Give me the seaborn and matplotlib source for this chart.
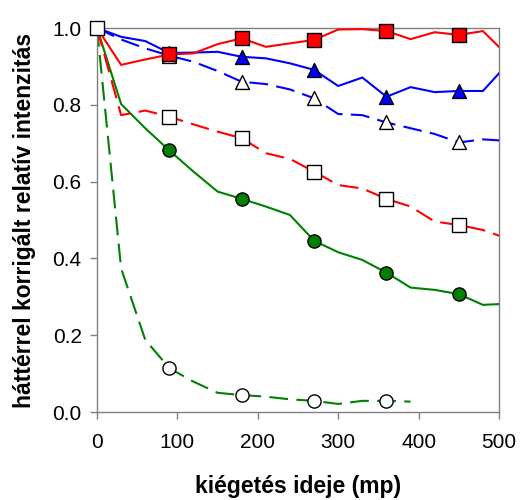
import numpy as np
import pandas as pd
import matplotlib
matplotlib.use("Agg")
import matplotlib.pyplot as plt
import seaborn as sns

# ---- data ----
times = [0, 30, 60, 90, 120, 150, 180, 210, 240, 270, 300, 330, 360, 390, 420, 450, 480, 510]
red_solid = [1.0, 0.904, 0.918, 0.931, 0.934, 0.958, 0.973, 0.951, 0.960, 0.969,
             0.996, 0.997, 0.992, 0.971, 0.989, 0.982, 0.992, 0.930]
blue_solid = [1.0, 0.977, 0.966, 0.935, 0.936, 0.938, 0.925, 0.921, 0.908, 0.891,
              0.849, 0.871, 0.821, 0.846, 0.833, 0.836, 0.836, 0.905]
blue_dashed = [1.0, 0.970, 0.947, 0.928, 0.912, 0.888, 0.860, 0.854, 0.840, 0.817,
               0.776, 0.773, 0.754, 0.739, 0.724, 0.702, 0.710, 0.706]
red_dashed = [1.0, 0.773, 0.785, 0.769, 0.749, 0.730, 0.713, 0.674, 0.659, 0.626,
              0.591, 0.582, 0.555, 0.535, 0.496, 0.487, 0.474, 0.452]
green_solid = [1.0, 0.802, 0.739, 0.681, 0.626, 0.574, 0.555, 0.535, 0.513, 0.446,
               0.416, 0.396, 0.363, 0.324, 0.318, 0.307, 0.279, 0.282]
green_dashed = [1.0, 0.374, 0.188, 0.114, 0.079, 0.050, 0.044, 0.040, 0.033, 0.029,
                0.021, 0.029, 0.029, 0.027]

x_ticks = [0, 100, 200, 300, 400, 500]
y_ticks = [0.0, 0.2, 0.4, 0.6, 0.8, 1.0]
x_label = "kiégetés ideje (mp)"
y_label = "háttérrel korrigált relatív intenzitás"

sns.set_theme(style="white")
plt.rcParams["font.family"] = ["Liberation Sans", "DejaVu Sans"]

fig = plt.figure(figsize=(5.2, 5.0), dpi=100)
ax = fig.add_axes([97 / 520, 1 - 412 / 500, (499 - 97) / 520, (412 - 28) / 500])

dash = (0, (9, 4))
series = [
    # values, color, linestyle, marker, facecolor, marker_size, marker at t=0
    (green_dashed, "#008000", dash, "o", "white", 90, False),
    (green_solid, "#008000", "-", "o", "#008000", 90, False),
    (blue_dashed, "#0000FF", dash, "^", "white", 100, False),
    (blue_solid, "#0000FF", "-", "^", "#0000FF", 100, False),
    (red_solid, "#FF0000", "-", "s", "#FF0000", 90, False),
    (red_dashed, "#FF0000", dash, "s", "white", 90, True),
]

for i, (vals, col, ls, mk, fc, ms, first) in enumerate(series):
    t = np.array(times[:len(vals)])
    v = np.array(vals)
    df = pd.DataFrame({"t": t, "v": v})
    sns.lineplot(data=df, x="t", y="v", ax=ax, color=col, linestyle=ls,
                 linewidth=1.5, zorder=2 + i, estimator=None, sort=False)
    idx = [k for k in range(len(t)) if k % 3 == 0 and (k > 0 or first) and t[k] <= 500]
    sns.scatterplot(x=t[idx], y=v[idx], ax=ax, marker=mk, color=fc, s=ms,
                    edgecolor="black", linewidth=1.0, zorder=10 + i, clip_on=False)

ax.set_xlim(0, 500)
ax.set_ylim(0, 1.0)
ax.set_xticks(x_ticks)
ax.set_yticks(y_ticks)
ax.set_xticklabels([str(v) for v in x_ticks])
ax.set_yticklabels([f"{v:.1f}" for v in y_ticks])

for s in ax.spines.values():
    s.set_color("#808080")
    s.set_linewidth(1.0)
    s.set_visible(True)

ax.tick_params(axis="both", direction="out", length=5, width=1.0, color="#808080",
               labelsize=15, labelcolor="black", bottom=True, left=True, top=False, right=False)
ax.tick_params(axis="x", pad=10)
ax.tick_params(axis="y", pad=6)

ax.set_xlabel(x_label, fontsize=16.5, fontweight="bold", labelpad=17, color="black")
ax.set_ylabel(y_label, fontsize=16.5, fontweight="bold", labelpad=12, color="black")

fig.savefig("out.png", dpi=100)
